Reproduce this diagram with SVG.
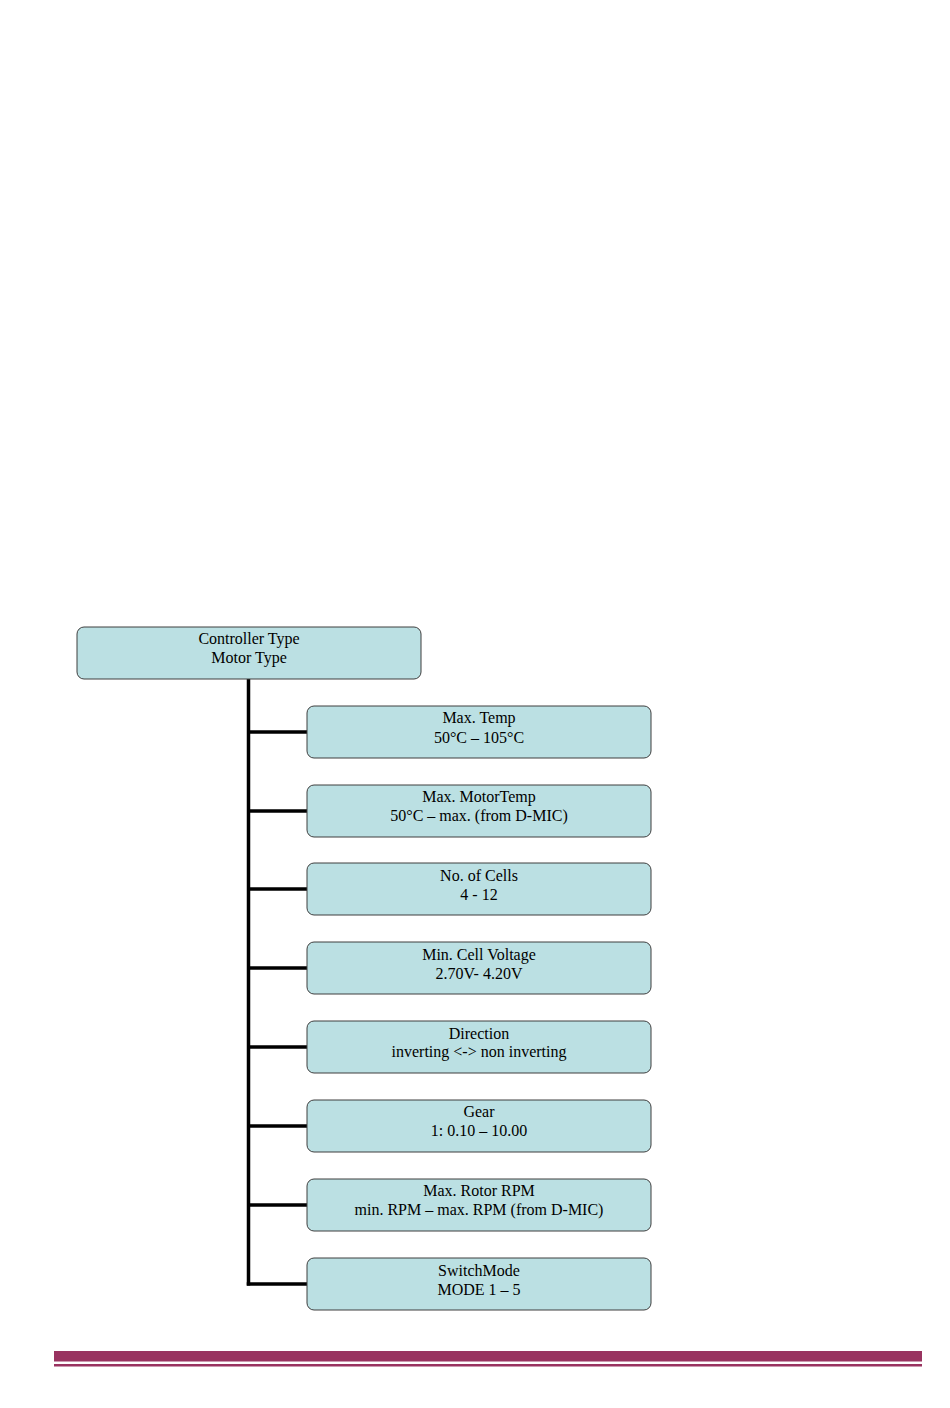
<svg xmlns="http://www.w3.org/2000/svg" width="950" height="1408" viewBox="0 0 950 1408">
<style>
.box{fill:#BBE0E3;stroke:#3f3f3f;stroke-width:1}
.t{font-family:"Liberation Serif","Times New Roman",serif;font-size:16px;fill:#000;text-anchor:middle}
.c{stroke:#000;stroke-width:3.5;fill:none}
</style>
<rect width="950" height="1408" fill="#fff"/>
<g id="connectors">
<line class="c" x1="248.5" y1="679" x2="248.5" y2="1285.5"/>
<line class="c" x1="248.5" y1="732" x2="307" y2="732"/>
<line class="c" x1="248.5" y1="811" x2="307" y2="811"/>
<line class="c" x1="248.5" y1="889" x2="307" y2="889"/>
<line class="c" x1="248.5" y1="968" x2="307" y2="968"/>
<line class="c" x1="248.5" y1="1047" x2="307" y2="1047"/>
<line class="c" x1="248.5" y1="1126" x2="307" y2="1126"/>
<line class="c" x1="248.5" y1="1205" x2="307" y2="1205"/>
<line class="c" x1="246.75" y1="1284" x2="307" y2="1284"/>
</g>
<g id="root">
<rect class="box" x="77" y="627" width="344" height="52" rx="7"/>
<text class="t" x="249" y="644">Controller Type</text>
<text class="t" x="249" y="663">Motor Type</text>
</g>
<g id="n1">
<rect class="box" x="307" y="706" width="344" height="52" rx="7"/>
<text class="t" x="479" y="723">Max. Temp</text>
<text class="t" x="479" y="743">50°C – 105°C</text>
</g>
<g id="n2">
<rect class="box" x="307" y="785" width="344" height="52" rx="7"/>
<text class="t" x="479" y="802">Max. MotorTemp</text>
<text class="t" x="479" y="821">50°C – max. (from D-MIC)</text>
</g>
<g id="n3">
<rect class="box" x="307" y="863" width="344" height="52" rx="7"/>
<text class="t" x="479" y="881">No. of Cells</text>
<text class="t" x="479" y="900">4 - 12</text>
</g>
<g id="n4">
<rect class="box" x="307" y="942" width="344" height="52" rx="7"/>
<text class="t" x="479" y="960">Min. Cell Voltage</text>
<text class="t" x="479" y="979">2.70V- 4.20V</text>
</g>
<g id="n5">
<rect class="box" x="307" y="1021" width="344" height="52" rx="7"/>
<text class="t" x="479" y="1039">Direction</text>
<text class="t" x="479" y="1057">inverting &lt;-&gt; non inverting</text>
</g>
<g id="n6">
<rect class="box" x="307" y="1100" width="344" height="52" rx="7"/>
<text class="t" x="479" y="1117">Gear</text>
<text class="t" x="479" y="1136">1: 0.10 – 10.00</text>
</g>
<g id="n7">
<rect class="box" x="307" y="1179" width="344" height="52" rx="7"/>
<text class="t" x="479" y="1196">Max. Rotor RPM</text>
<text class="t" x="479" y="1215">min. RPM – max. RPM (from D-MIC)</text>
</g>
<g id="n8">
<rect class="box" x="307" y="1258" width="344" height="52" rx="7"/>
<text class="t" x="479" y="1276">SwitchMode</text>
<text class="t" x="479" y="1295">MODE 1 – 5</text>
</g>
<g id="footer">
<rect x="54" y="1351" width="868" height="10.5" fill="#993360"/>
<rect x="54" y="1364" width="868" height="2.5" fill="#993360"/>
</g>
</svg>
